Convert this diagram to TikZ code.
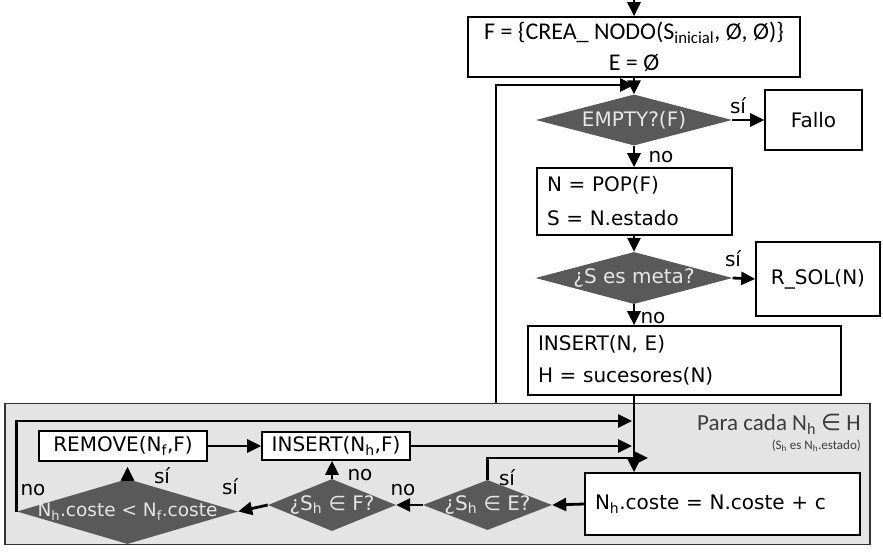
\documentclass[tikz,border=0pt]{standalone}
\usepackage{fontspec}
\setmainfont{DejaVu Sans}
\newfontfamily\calfont{Carlito}
\newfontfamily\symfont{DejaVu Sans}
\usetikzlibrary{arrows.meta,shapes.geometric}
\definecolor{diafill}{HTML}{595959}
\definecolor{diatext}{HTML}{E6E6E6}
\definecolor{loopbg}{HTML}{E4E4E4}
\definecolor{loopline}{HTML}{333333}
\definecolor{looptext}{HTML}{3C3C3C}
\tikzset{
  boxnode/.style={draw=black, line width=1.6pt, fill=white, inner sep=0pt, text=black,
    font=\fontsize{20}{24}\selectfont},
  leftbox/.style={boxnode, align=left, inner xsep=10pt},
  dianode/.style={shape=diamond, aspect=1, fill=diafill, draw=none, inner sep=0pt,
    text=diatext, font=\fontsize{20}{24}\selectfont},
  arr/.style={line width=2.8pt, -{Triangle[length=14pt,width=13pt]}},
  lbl/.style={font=\fontsize{20}{24}\selectfont, inner sep=0pt, text=black},
}
\newcommand{\sbs}[1]{\textsubscript{#1}}
\newcommand{\elm}{{\symfont ∈}}
\begin{document}
\begin{tikzpicture}[x=1pt,y=-1pt]
\useasboundingbox[fill=white] (0,0) rectangle (883,556);

% loop background
\node[draw=loopline, line width=1.6pt, fill=loopbg, minimum width=865pt, minimum height=141pt, inner sep=0pt] (loop) at (437.5,474) {};
\node[anchor=east, inner sep=0pt, text=looptext, font=\calfont\fontsize{23}{27}\selectfont] (para) at (861,424) {Para cada N\sbs{h} \elm\ H};
\node[anchor=east, inner sep=0pt, text=looptext, font=\calfont\fontsize{13}{15}\selectfont] (parasub) at (861,446) {(S\sbs{h} es N\sbs{h}.estado)};

% main column
\coordinate (start) at (634,0);
\node[boxnode, align=center, minimum width=332pt, minimum height=60pt, font=\calfont\fontsize{24}{31}\selectfont] (init) at (634,47)
  {F = \{CREA\_ NODO(S\sbs{inicial}, Ø, Ø)\}\\E = Ø};
\node[dianode, minimum width=196pt, minimum height=51pt] (empty) at (634,120) {\makebox[0pt]{EMPTY?(F)}};
\node[boxnode, minimum width=97pt, minimum height=60pt] (fallo) at (813.5,120) {Fallo};
\node[leftbox, text width=175pt, minimum height=67pt, font=\fontsize{20}{34}\selectfont] (pop) at (634.5,201.5)
  {N = POP(F)\\S = N.estado};
\node[dianode, minimum width=197pt, minimum height=52pt] (meta) at (634,278) {\makebox[0pt]{¿S es meta?}};
\node[boxnode, minimum width=124pt, minimum height=74pt] (rsol) at (818,279) {R\_SOL(N)};
\node[leftbox, text width=293pt, minimum height=69pt, font=\fontsize{20}{32}\selectfont] (ins) at (684.5,360.5)
  {INSERT(N, E)\\H = sucesores(N)};

% loop body
\node[leftbox, text width=255pt, minimum height=62pt] (coste) at (722.5,504) {N\sbs{h}.coste = N.coste + c};
\node[dianode, minimum width=129pt, minimum height=50pt] (inE) at (487.5,505) {\makebox[0pt]{¿S\sbs{h} \elm\ E?}};
\node[dianode, minimum width=128pt, minimum height=52pt] (inF) at (332,505) {\makebox[0pt]{¿S\sbs{h} \elm\ F?}};
\node[dianode, minimum width=221pt, minimum height=65pt] (cmp) at (127.5,511.5) {\makebox[0pt]{\fontsize{18.5}{22}\selectfont N\sbs{h}.coste < N\sbs{f}.coste}};
\node[boxnode, minimum width=168pt, minimum height=30pt] (rem) at (123,446) {REMOVE(N\sbs{f},F)};
\node[boxnode, minimum width=148pt, minimum height=28pt] (insh) at (336,446) {INSERT(N\sbs{h},F)};

% coordinates for free ends
\coordinate (lp) at (496,85);
\coordinate (yesE) at (648,458);
\coordinate (topline) at (632,421);
\coordinate (tip2) at (632,446);
\path (cmp.north |- rem.south) ++(0,5) coordinate (remtip);

% connectors main column
\draw[arr] (start) -- (init.north);
\draw[arr] (init.south) -- (empty.north);
\draw[arr] (loop.north -| lp) -- (lp) -- (lp -| empty.north);
\draw[arr] (empty.east) -- (fallo.west);
\draw[arr] (empty.south) -- (pop.north -| empty.south);
\draw[arr] (pop.south -| meta.north) -- (meta.north);
\draw[arr] (meta.east) -- (rsol.west);
\draw[arr] (meta.south) -- (ins.north -| meta.south);
\draw[arr] (ins.south -| meta.south) -- (coste.north -| meta.south);

% connectors loop
\draw[arr] (coste.west) -- (inE.east);
\draw[arr] (inE.north) -- (inE.north |- yesE) -- (yesE);
\draw[arr] (inE.west) -- (inF.east);
\draw[arr] (inF.north) -- (inF.north |- insh.south);
\draw[arr] (inF.west) -- (cmp.east);
\draw[arr] (cmp.north) -- (remtip);
\draw[arr] (rem.east) -- (insh.west);
\draw[arr] (insh.east) -- (tip2);
\draw[arr] (cmp.west) -- (cmp.west |- topline) -- (topline);

% labels
\node[lbl] (l1) at (738,106) {sí};
\node[lbl] (l2) at (661,157) {no};
\node[lbl] (l3) at (733,259) {sí};
\node[lbl] (l4) at (653,318) {no};
\node[lbl] (l5) at (507,478) {sí};
\node[lbl] (l6) at (403,490) {no};
\node[lbl] (l7) at (360,475) {no};
\node[lbl] (l8) at (230,487) {sí};
\node[lbl] (l9) at (162,476) {sí};
\node[lbl] (l10) at (33,490) {no};
\end{tikzpicture}
\end{document}
